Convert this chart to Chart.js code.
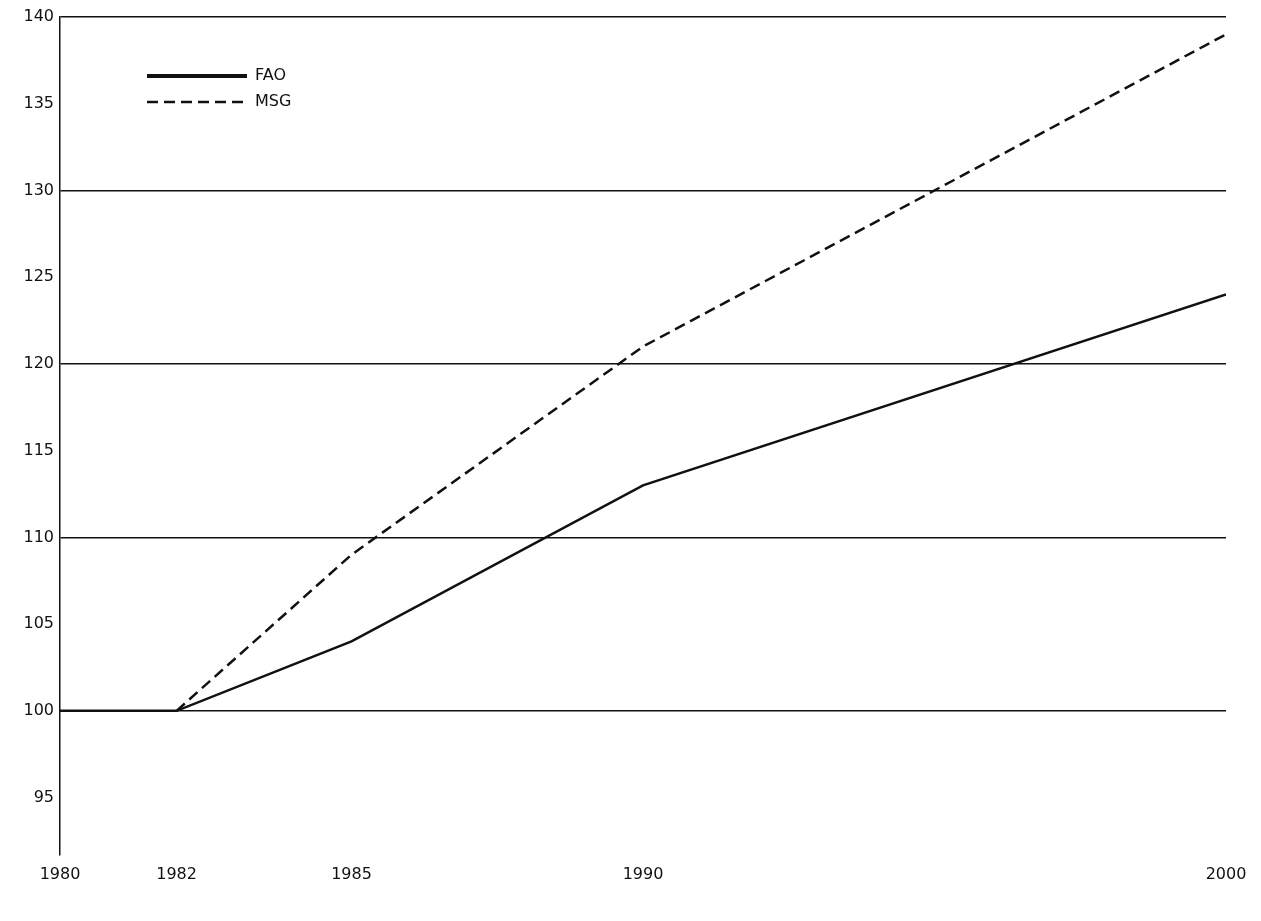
<!DOCTYPE html>
<html>
<head>
<meta charset="utf-8">
<script src="https://cdn.jsdelivr.net/npm/chart.js@4/dist/chart.umd.min.js"></script>
<style>
  body { margin: 0; background: #fff; }
</style>
</head>
<body>
<canvas id="chart" width="1261" height="921"></canvas>
<script>
const years = [1980, 1982, 1985, 1990, 2000];
const faoValues = [100, 100, 104, 113, 124];
const msgYears = [1982, 1985, 1990, 2000];
const msgValues = [100, 109, 121, 139];
const yTicks = [95, 100, 105, 110, 115, 120, 125, 130, 135, 140];

const font = { family: 'DejaVu Sans', size: 16 };

// legend drawn inside the plot area, top-left
const insideLegend = {
    id: 'insideLegend',
    afterDraw(chart) {
        const ctx = chart.ctx;
        const items = [
            { label: 'FAO', dash: [], width: 4 },
            { label: 'MSG', dash: [11, 6], width: 2.5 }
        ];
        ctx.save();
        ctx.font = '16px "DejaVu Sans"';
        ctx.fillStyle = '#111';
        ctx.textBaseline = 'middle';
        items.forEach((it, i) => {
            const y = 76 + i * 26;
            ctx.strokeStyle = '#111';
            ctx.lineWidth = it.width;
            ctx.setLineDash(it.dash);
            ctx.beginPath();
            ctx.moveTo(147, y);
            ctx.lineTo(247, y);
            ctx.stroke();
            ctx.fillText(it.label, 255, y);
        });
        ctx.restore();
    }
};

new Chart(document.getElementById('chart').getContext('2d'), {
    type: 'line',
    data: {
        datasets: [
            {
                label: 'FAO',
                data: years.map((x, i) => ({ x: x, y: faoValues[i] })),
                borderColor: '#111',
                borderWidth: 2.5,
                pointRadius: 0,
                tension: 0
            },
            {
                label: 'MSG',
                data: msgYears.map((x, i) => ({ x: x, y: msgValues[i] })),
                borderColor: '#111',
                borderWidth: 2.5,
                borderDash: [11, 6],
                pointRadius: 0,
                tension: 0
            }
        ]
    },
    options: {
        responsive: false,
        animation: false,
        layout: { padding: { top: 17, right: 35, left: 0, bottom: 27 } },
        plugins: { legend: { display: false }, tooltip: { enabled: false } },
        scales: {
            x: {
                type: 'linear',
                min: 1980,
                max: 2000,
                afterBuildTicks: s => { s.ticks = years.map(v => ({ value: v })); },
                grid: { display: false, drawTicks: false },
                border: { display: false },
                ticks: { color: '#111', font: font, padding: 10, maxRotation: 0, callback: v => String(v) }
            },
            y: {
                min: 91.7,
                max: 140,
                afterBuildTicks: s => { s.ticks = yTicks.map(v => ({ value: v })); },
                afterFit: s => { s.width = 60; },
                grid: {
                    drawTicks: false,
                    color: c => (c.tick && c.tick.value % 10 === 0) ? '#111' : 'rgba(0,0,0,0)',
                    lineWidth: 1.5
                },
                border: { display: true, color: '#111', width: 1.5 },
                ticks: { color: '#111', font: font, padding: 6 }
            }
        }
    },
    plugins: [insideLegend]
});
</script>
</body>
</html>
